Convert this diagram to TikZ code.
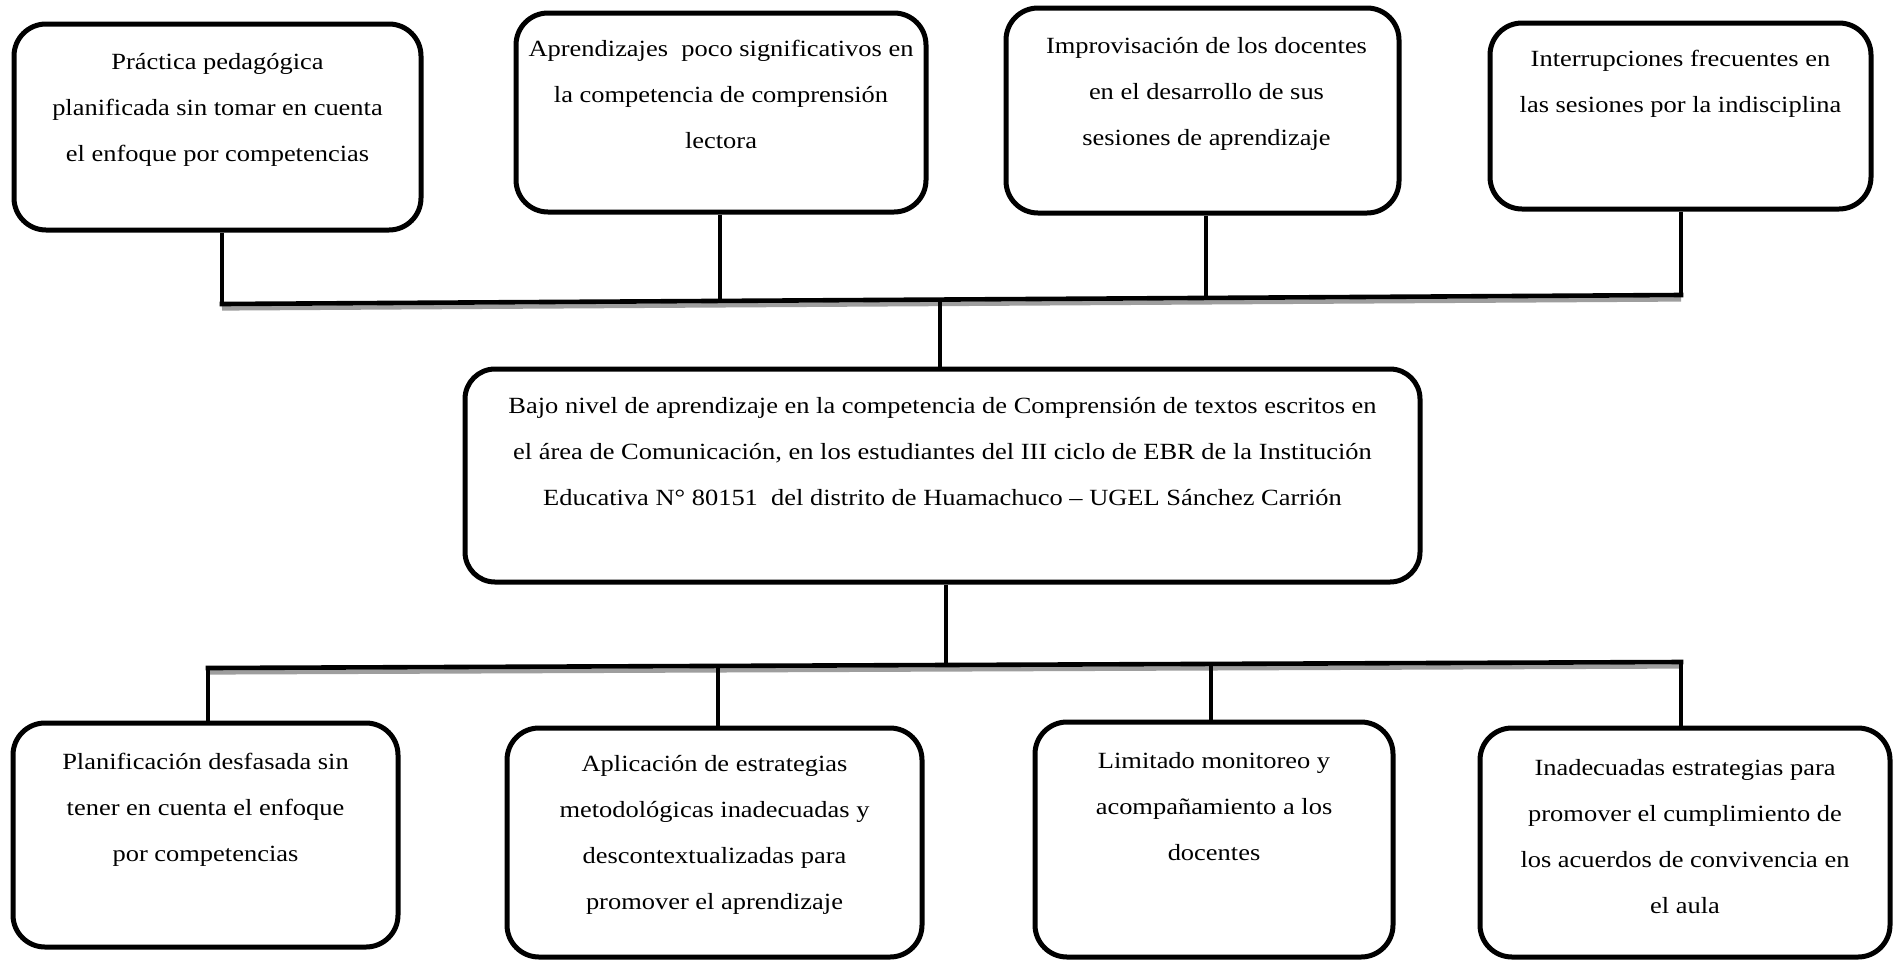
\documentclass[tikz,border=0pt]{standalone}
\usepackage{fontspec}
\setmainfont{Liberation Serif}[FakeStretch=1.14]
\newcommand\boxfnt{\fontsize{11.6pt}{23pt}\selectfont}
\begin{document}
\begin{tikzpicture}[x=0.5pt,y=-0.5pt,
  boxshape/.style={draw=black,line width=2.5pt,rounded corners=16pt,fill=white,inner sep=0pt},
  boxtext/.style={anchor=north,inner sep=0pt,align=center,font=\boxfnt,text=black},
  conn/.style={draw=black,line width=2.2pt},
  bus/.style={draw=black,line width=2.3pt,line cap=rect},
  busshadow/.style={draw=black!38,line width=2.2pt}
]
\useasboundingbox[fill=white] (0,0) rectangle (1894,959);

% top boxes
\node[boxshape,minimum width=203.5pt,minimum height=103pt] (t1) at (217.5,127) {};
\node[boxshape,minimum width=205pt,minimum height=99.5pt] (t2) at (721,112.5) {};
\node[boxshape,minimum width=196.5pt,minimum height=102.5pt] (t3) at (1202.5,110.5) {};
\node[boxshape,minimum width=190.5pt,minimum height=93pt] (t4) at (1680.5,116) {};
% main box
\node[boxshape,rounded corners=15pt,minimum width=477.5pt,minimum height=106.5pt] (m) at (942.5,475.5) {};
% bottom boxes
\node[boxshape,minimum width=192.5pt,minimum height=112pt] (b1) at (205.5,835) {};
\node[boxshape,minimum width=207.5pt,minimum height=114.5pt] (b2) at (714.5,842.5) {};
\node[boxshape,minimum width=179pt,minimum height=117.5pt] (b3) at (1214,839.5) {};
\node[boxshape,minimum width=205pt,minimum height=114.5pt] (b4) at (1685,842.5) {};

% texts
\node[boxtext] (t1x) at ([yshift=-7.5pt]t1.north) {\strut Práctica pedagógica\\planificada sin tomar en cuenta\\el enfoque por competencias};
\node[boxtext] (t2x) at ([yshift=-6.5pt]t2.north) {\strut Aprendizajes\ \ poco significativos en\\la competencia de comprensión\\lectora};
\node[boxtext] (t3x) at ([yshift=-7.5pt,xshift=2pt]t3.north) {\strut Improvisación de los docentes\\en el desarrollo de sus\\sesiones de aprendizaje};
\node[boxtext] (t4x) at ([yshift=-6.5pt]t4.north) {\strut Interrupciones frecuentes en\\las sesiones por la indisciplina};
\node[boxtext] (mx) at ([yshift=-7pt]m.north) {\strut Bajo nivel de aprendizaje en la competencia de Comprensión de textos escritos en\\el área de Comunicación, en los estudiantes del III ciclo de EBR de la Institución\\Educativa N° 80151\ \ del distrito de Huamachuco – UGEL Sánchez Carrión};
\node[boxtext] (b1x) at ([yshift=-8pt]b1.north) {\strut Planificación desfasada sin\\tener en cuenta el enfoque\\por competencias};
\node[boxtext] (b2x) at ([yshift=-6.5pt]b2.north) {\strut Aplicación de estrategias\\metodológicas inadecuadas y\\descontextualizadas para\\promover el aprendizaje};
\node[boxtext] (b3x) at ([yshift=-8pt]b3.north) {\strut Limitado monitoreo y\\acompañamiento a los\\docentes};
\node[boxtext] (b4x) at ([yshift=-8.5pt]b4.north) {\strut Inadecuadas estrategias para\\promover el cumplimiento de\\los acuerdos de convivencia en\\el aula};

% top bus junctions
\coordinate (j1) at (222,304);
\coordinate (j2) at (720,301);
\coordinate (j3) at (1206,298);
\coordinate (j4) at (1681,295);
\coordinate (jm) at (940,299.6);
% bottom bus junctions
\coordinate (k1) at (208,668);
\coordinate (k2) at (718,666);
\coordinate (km) at (946,665);
\coordinate (k3) at (1211,664);
\coordinate (k4) at (1681,662);

% bus shadows
\draw[busshadow] ([yshift=-2.2pt]j1) -- ([yshift=-2.2pt]j4);
\draw[busshadow] ([yshift=-2.2pt]k1) -- ([yshift=-2.2pt]k4);

% top connectors
\draw[conn] (t1.south -| j1) -- (j1);
\draw[conn] (t2.south -| j2) -- (j2);
\draw[conn] (t3.south -| j3) -- (j3);
\draw[conn] (t4.south -| j4) -- (j4);
\draw[bus] (j1) -- (j4);
\draw[conn] (jm) -- (m.north -| jm);

% bottom connectors
\draw[conn] (m.south -| km) -- (km);
\draw[bus] (k1) -- (k4);
\draw[conn] (k1) -- (b1.north -| k1);
\draw[conn] (k2) -- (b2.north -| k2);
\draw[conn] (k3) -- (b3.north -| k3);
\draw[conn] (k4) -- (b4.north -| k4);
\end{tikzpicture}
\end{document}
